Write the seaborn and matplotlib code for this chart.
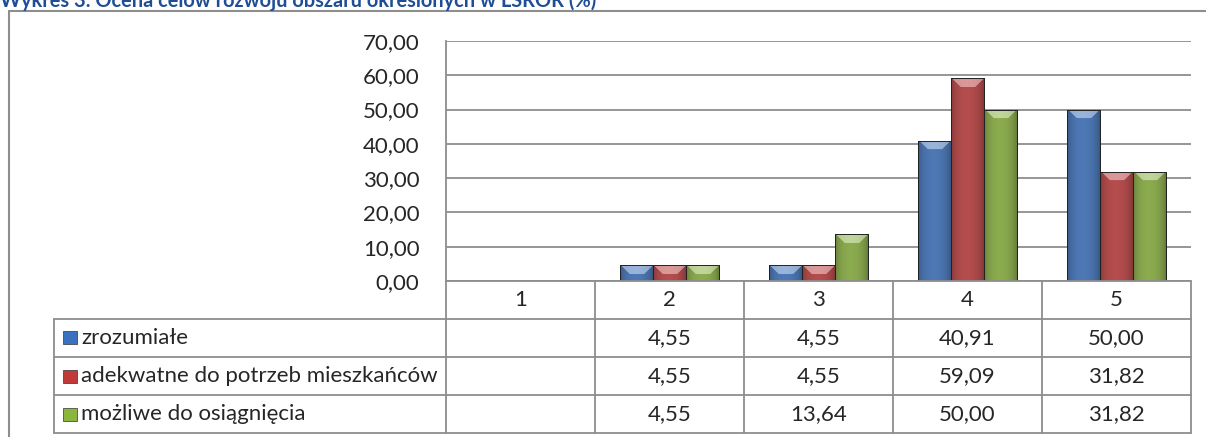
import numpy as np
import pandas as pd
import seaborn as sns
import matplotlib.pyplot as plt
from matplotlib.lines import Line2D
from matplotlib.patches import Rectangle
from matplotlib.colors import to_rgb

categories = ['1', '2', '3', '4', '5']
series_names = ['zrozumiałe', 'adekwatne do potrzeb mieszkańców', 'możliwe do osiągnięcia']
zrozumiale = [np.nan, 4.55, 4.55, 40.91, 50.00]
adekwatne = [np.nan, 4.55, 4.55, 59.09, 31.82]
mozliwe = [np.nan, 4.55, 13.64, 50.00, 31.82]
y_ticks = [0, 10, 20, 30, 40, 50, 60, 70]
title = 'Wykres 3. Ocena celów rozwoju obszaru określonych w LSROR (%)'

colors = ['#3A72C0', '#C03A3A', '#8CB53E']
line_col = '#8E8E8E'
FONT = ['Lato', 'DejaVu Sans']
FS = 16

W, H = 1206, 437


def fx(px):
    return px / W


def fy(py):
    return 1 - py / H


def fmt(v):
    return f'{v:.2f}'.replace('.', ',')


sns.set_style('white')
plt.rcParams['font.family'] = FONT

df = pd.DataFrame({
    'kat': categories * 3,
    'seria': np.repeat(series_names, len(categories)),
    'wartosc': zrozumiale + adekwatne + mozliwe,
})

fig = plt.figure(figsize=(W / 100, H / 100), dpi=100)
ax = fig.add_axes([fx(446), fy(281), fx(1191) - fx(446), (281 - 41) / H])

sns.barplot(data=df, x='kat', y='wartosc', hue='seria', order=categories,
            hue_order=series_names, palette=colors, width=0.665,
            errorbar=None, legend=False, ax=ax, edgecolor='#222222',
            linewidth=0.7, zorder=3)

ax.set_xlim(-0.5, len(categories) - 0.5)
ax.set_ylim(0, 70)
ax.set_yticks(y_ticks)
ax.set_yticklabels([fmt(t) for t in y_ticks], fontsize=FS)
ax.tick_params(axis='y', length=0, pad=19)
ax.set_xticks([])
ax.set_xlabel('')
ax.set_ylabel('')
ax.yaxis.grid(True, color=line_col, linewidth=1.3)
ax.set_axisbelow(True)
for side in ['top', 'right', 'bottom']:
    ax.spines[side].set_visible(False)
ax.spines['left'].set_color(line_col)
ax.spines['left'].set_linewidth(1.3)

# bevelled look of the bars, built from each drawn patch
px_per_unit = 240 / 70
for patch in list(ax.patches):
    h = patch.get_height()
    if not np.isfinite(h) or h <= 0:
        continue
    x0, y0, w = patch.get_x(), patch.get_y(), patch.get_width()
    base = np.array(to_rgb(patch.get_facecolor()))
    nx = 33
    ny = max(int(round(h * px_per_unit)), 2)
    xs = np.linspace(0, 1, nx)
    prof = 0.72 + 0.34 * np.sin(np.pi * xs) ** 0.5 - 0.06 * xs
    img = np.clip(base[None, None, :] * prof[None, :, None], 0, 1).repeat(ny, axis=0)
    bev = 9
    for r in range(min(bev, ny)):
        for c in range(nx):
            if r < c and r < nx - 1 - c:
                img[r, c] = np.clip(img[r, c] * 0.65 + 0.4, 0, 1)
    im = ax.imshow(img, extent=[x0, x0 + w, y0, y0 + h], aspect='auto',
                   origin='upper', zorder=3, interpolation='bilinear')
    im.set_clip_path(patch)
    patch.set_facecolor('none')
    patch.set_zorder(4)

ax.set_xlim(-0.5, len(categories) - 0.5)
ax.set_ylim(0, 70)

# column edges taken from the category axis
fig.canvas.draw()
to_fig = fig.transFigure.inverted()
col_x = [to_fig.transform(ax.transData.transform((i - 0.5, 0)))[0]
         for i in range(len(categories) + 1)]

rows_y = [281, 318.5, 357, 395, 433]
leg_left = fx(54)


def hline(x0, x1, ypx):
    fig.add_artist(Line2D([x0, x1], [fy(ypx), fy(ypx)], color=line_col, lw=1.3))


def vline(xf, y0px, y1px):
    fig.add_artist(Line2D([xf, xf], [fy(y0px), fy(y1px)], color=line_col, lw=1.3))


hline(col_x[0], col_x[-1], rows_y[0])
for ypx in rows_y[1:]:
    hline(leg_left, col_x[-1], ypx)
vline(leg_left, rows_y[1], rows_y[-1])
for xf in col_x:
    vline(xf, rows_y[0], rows_y[-1])

# header row
for i, cat in enumerate(categories):
    fig.text((col_x[i] + col_x[i + 1]) / 2, fy((rows_y[0] + rows_y[1]) / 2), cat,
             ha='center', va='center', fontsize=FS)

# data rows with legend keys
for r, (name, vals) in enumerate(zip(series_names, [zrozumiale, adekwatne, mozliwe])):
    yc = (rows_y[r + 1] + rows_y[r + 2]) / 2
    fig.add_artist(Rectangle((fx(63), fy(yc + 6.5)), 14 / W, 13 / H,
                             facecolor=colors[r], edgecolor='#333333', lw=0.5,
                             transform=fig.transFigure))
    fig.text(fx(81), fy(yc), name, ha='left', va='center', fontsize=FS)
    for i, v in enumerate(vals):
        if np.isfinite(v):
            fig.text((col_x[i] + col_x[i + 1]) / 2, fy(yc), fmt(v),
                     ha='center', va='center', fontsize=FS)

# outer chart frame
fig.add_artist(Line2D([fx(9), 1], [fy(11), fy(11)], color=line_col, lw=1.5))
fig.add_artist(Line2D([fx(9), fx(9)], [fy(11), 0], color=line_col, lw=1.5))

fig.text(fx(0), fy(7), title, ha='left', va='baseline', fontsize=14.4,
         fontweight='bold', color='#1F4E96')

fig.savefig('out.png', dpi=100)
